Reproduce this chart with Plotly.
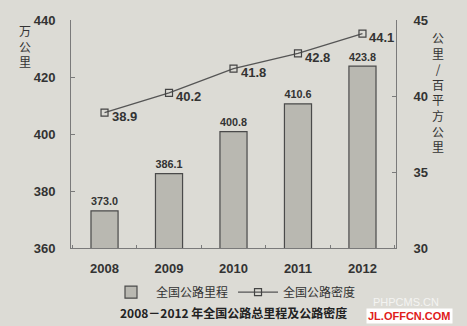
import plotly.graph_objects as go

years = ["2008", "2009", "2010", "2011", "2012"]
mileage = [373.0, 386.1, 400.8, 410.6, 423.8]
density = [38.9, 40.2, 41.8, 42.8, 44.1]
left_ticks = [360, 380, 400, 420, 440]
right_ticks = [30, 35, 40, 45]

bg = "#dcdbd5"
txt = "#333333"
axc = "#7a7a7a"
cjk = "Noto Sans CJK SC"
numfont = dict(family="Liberation Sans", size=13, color=txt, weight="bold")

fig = go.Figure()
fig.add_trace(go.Bar(
    x=years, y=mileage, name="全国公路里程", width=0.42,
    marker=dict(color="#b9b8b1", line=dict(color="#4a4a4a", width=1.2)),
    text=[f"{v:.1f}" for v in mileage], textposition="outside",
    textfont=numfont,
    cliponaxis=False,
))
fig.add_trace(go.Scatter(
    x=years, y=density, name="全国公路密度", yaxis="y2",
    mode="lines+markers",
    line=dict(color="#555555", width=1.3),
    marker=dict(symbol="square-open", size=7, color="#444444", line=dict(width=1.2)),
    cliponaxis=False,
))
for i, d in enumerate(density):
    fig.add_annotation(x=i, y=d, xref="x", yref="y2", text=f"{d:.1f}", showarrow=False,
                       xanchor="left", yanchor="middle", xshift=5, yshift=-4, font=numfont)

fig.update_layout(
    width=467, height=326,
    margin=dict(l=71, r=71, t=20, b=78),
    paper_bgcolor=bg, plot_bgcolor=bg,
    showlegend=True,
    legend=dict(orientation="h", x=0.5, xanchor="center", y=-0.13, yanchor="top",
                font=dict(family=cjk, size=12, color=txt), bgcolor="rgba(0,0,0,0)",
                itemwidth=40, tracegroupgap=0),
    xaxis=dict(type="category", range=[-0.52, 4.52], showline=True, linecolor=axc, linewidth=1,
               ticks="inside", tickson="boundaries", ticklen=3, tickcolor=axc,
               tickfont=numfont, showgrid=False, ticklabelstandoff=8),
    yaxis=dict(range=[360, 440], tickvals=left_ticks, showline=True, linecolor=axc, linewidth=1,
               ticks="inside", ticklen=4, tickcolor=axc, showgrid=False, zeroline=False,
               tickfont=numfont, ticklabelstandoff=12),
    yaxis2=dict(range=[30, 45], tickvals=right_ticks, overlaying="y", side="right",
                showline=True, linecolor=axc, linewidth=1, ticks="inside", ticklen=4,
                tickcolor=axc, showgrid=False, zeroline=False,
                tickfont=numfont, ticklabelstandoff=14),
    font=dict(family=cjk, color=txt),
)

fig.add_annotation(text="万<br>公<br>里", xref="paper", yref="paper", x=-0.14, y=1.0,
                   xanchor="center", yanchor="top", showarrow=False,
                   font=dict(family=cjk, size=12, color=txt))
fig.add_annotation(text="公<br>里<br>/<br>百<br>平<br>方<br>公<br>里", xref="paper", yref="paper",
                   x=1.13, y=0.97, xanchor="center", yanchor="top", showarrow=False,
                   font=dict(family=cjk, size=12, color=txt))
fig.add_annotation(text="<b>2008－2012 年全国公路总里程及公路密度</b>", xref="paper", yref="paper",
                   x=0.5, y=-0.285, xanchor="center", yanchor="middle", showarrow=False,
                   font=dict(family=cjk, size=12, color="#222222"))
fig.add_annotation(text="PHPCMS.CN", xref="paper", yref="paper", x=1.03, y=-0.235,
                   xanchor="center", yanchor="middle", showarrow=False,
                   font=dict(family="Liberation Sans", size=11, color="#f4f4f2"))
fig.add_annotation(text="<b>JL.OFFCN.COM</b>", xref="paper", yref="paper", x=1.0, y=-0.3,
                   xanchor="left", yanchor="middle", showarrow=False, bgcolor="#ffffff",
                   font=dict(family="Liberation Sans", size=11, color="#e0201a"), xshift=-30)

fig.write_html("out.html")
